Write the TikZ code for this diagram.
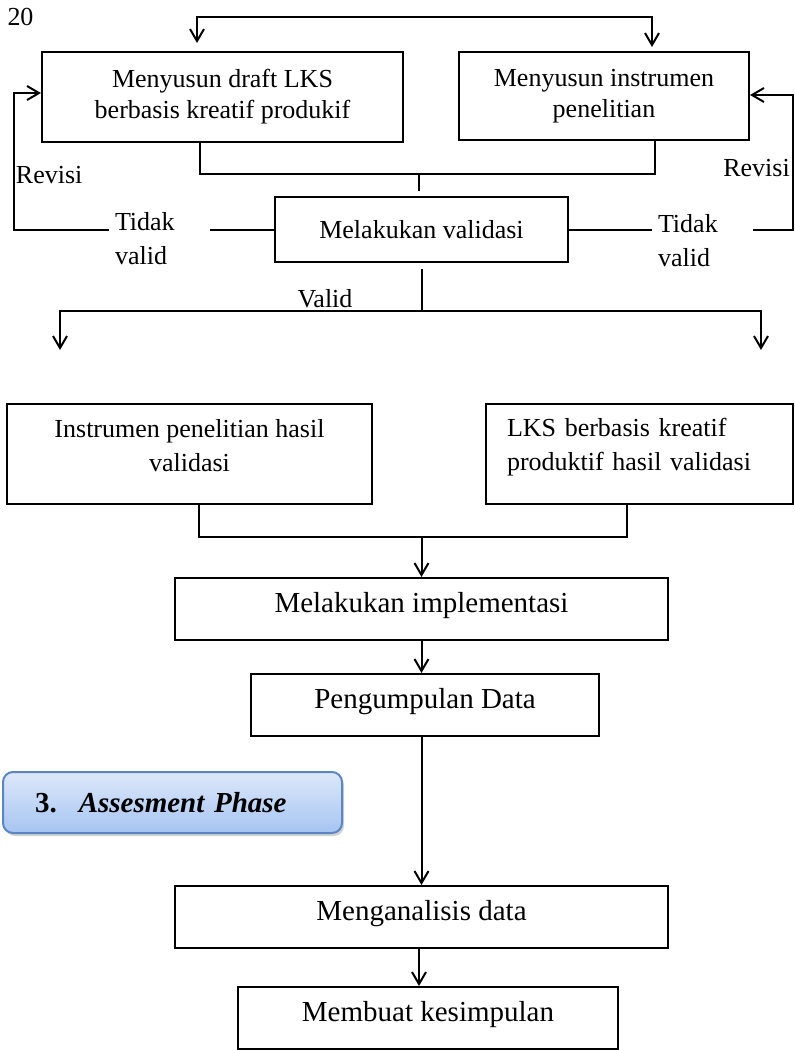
\documentclass[tikz,border=0pt]{standalone}
\usepackage{fontspec}
\setmainfont{Liberation Serif}
\usetikzlibrary{arrows.meta,shadows}

\definecolor{phasetop}{HTML}{DDE8FA}
\definecolor{phasebot}{HTML}{A6C4F2}
\definecolor{phaseedge}{HTML}{5A86C3}

\tikzset{
  procbox/.style={draw,line width=1pt,inner sep=0pt,align=center,
                  font=\fontsize{13}{15.5}\selectfont},
  bigbox/.style={procbox,text depth=7pt,font=\fontsize{14.5}{17}\selectfont},
  lbl/.style={inner sep=0pt,font=\fontsize{13}{17}\selectfont},
  arr/.style={-{Straight Barb[length=6pt,width=7pt]}},
  biarr/.style={{Straight Barb[length=6pt,width=7pt]}-{Straight Barb[length=6pt,width=7pt]}},
  phasebox/.style={rounded corners=5pt,draw=phaseedge,line width=1pt,
                   top color=phasetop,bottom color=phasebot,
                   drop shadow={shadow xshift=1pt,shadow yshift=-1.5pt,fill=black!35},
                   minimum width=169.5pt,minimum height=30.5pt,
                   text width=137.5pt,inner xsep=16pt,align=left,
                   font=\fontsize{14.5}{17}\selectfont}
}

\begin{document}
\begin{tikzpicture}[x=0.5pt,y=-0.5pt,line width=1pt]
      \useasboundingbox (0,0) rectangle (795,1050);

      % Page number
      \node[lbl] (pg) at (20.5,17) {20};

      % Drafting and validation
      \node[procbox,minimum width=180.5pt,minimum height=45pt] (draft) at (222.5,97)
            {Menyusun draft LKS\\berbasis kreatif produkif};
      \node[procbox,minimum width=145pt,minimum height=44pt] (instr) at (604,96)
            {Menyusun instrumen\\penelitian};
      \node[procbox,minimum width=146.5pt,minimum height=32.5pt] (valid) at (421.5,229.5)
            {Melakukan validasi};

      % Labels
      \node[lbl,text width=44.5pt,inner xsep=2.5pt,align=left] (tvL) at (159.5,239) {Tidak\\valid};
      \node[lbl,text width=44.5pt,inner xsep=2.5pt,align=left] (tvR) at (702.5,241) {Tidak\\valid};
      \node[lbl,anchor=west] (revisiL) at (15,175) {Revisi};
      \node[lbl] (revisiR) at (756.5,168) {Revisi};
      \node[lbl,anchor=south] (validlbl) at (325,309) {Valid};

      % Results of validation
      \node[procbox,minimum width=182.5pt,minimum height=50pt,text depth=9pt,
            font=\fontsize{13}{17}\selectfont] (inshasil) at (189.5,454)
            {Instrumen penelitian hasil\\validasi};
      \node[procbox,minimum width=153.5pt,minimum height=50pt,text depth=27pt,
            font=\fontsize{13}{17}\selectfont,
            text width=132.5pt,inner xsep=10.5pt,align=left] (lkshasil) at (639.5,454)
            {LKS berbasis kreatif\\produktif hasil validasi};

      % Implementation and assessment
      \node[bigbox,minimum width=246.5pt,minimum height=31pt] (impl) at (421.5,609) {Melakukan implementasi};
      \node[bigbox,minimum width=174pt,minimum height=31pt] (data) at (425,705) {Pengumpulan Data};
      \node[bigbox,minimum width=246.5pt,minimum height=31pt] (anal) at (421.5,917) {Menganalisis data};
      \node[bigbox,minimum width=190pt,minimum height=31pt] (simp) at (428,1018) {Membuat kesimpulan};

      \node[phasebox] (phase) at (172.5,802.5)
            {\textbf{3.}\hspace{11pt}\textbf{\textit{Assesment Phase}}};

      % Top arrows
      \draw[biarr,shorten <=4pt,shorten >=2pt] ([xshift=-12.75pt]draft.north) -- ++(0,-34)
            -| ([xshift=24pt]instr.north);

      % Into validation
      \coordinate (join1) at (419,174);
      \draw ([xshift=-11.25pt]draft.south) |- (join1) -| ([xshift=25.5pt]instr.south);
      \draw (join1) -- ([yshift=2.5pt]join1 |- valid.north);

      % Revision loops
      \coordinate (revL) at (14,229.5);
      \coordinate (revR) at (793,229.5);
      \draw (valid.west) -- (tvL.east |- valid.west);
      \draw[arr] (tvL.west |- valid.west) -- (revL) |- ([yshift=2pt]draft.west);
      \draw (valid.east) -- (tvR.west |- valid.east);
      \draw[arr] (tvR.east |- valid.east) -- (revR) |- ([yshift=0.5pt]instr.east);

      % Valid branch
      \coordinate (tipL) at (60,350);
      \coordinate (tipR) at (761,350);
      \coordinate (split) at (421.5,311);
      \draw[biarr] (tipL) |- (split) -| (tipR);
      \draw ([yshift=-3pt]valid.south) -- (split);

      % Merge of results
      \coordinate (join2) at (421.5,537);
      \draw ([xshift=4.75pt]inshasil.south) |- (join2) -| ([xshift=-6.25pt]lkshasil.south);
      \draw[arr] (join2) -- (impl.north);

      % Chain
      \draw[arr] (impl.south) -- (impl.south |- data.north);
      \draw[arr] (impl.south |- data.south) -- (anal.north);
      \draw[arr] ([xshift=-1.25pt]anal.south) -- ([xshift=-1.25pt]anal.south |- simp.north);
\end{tikzpicture}
\end{document}
